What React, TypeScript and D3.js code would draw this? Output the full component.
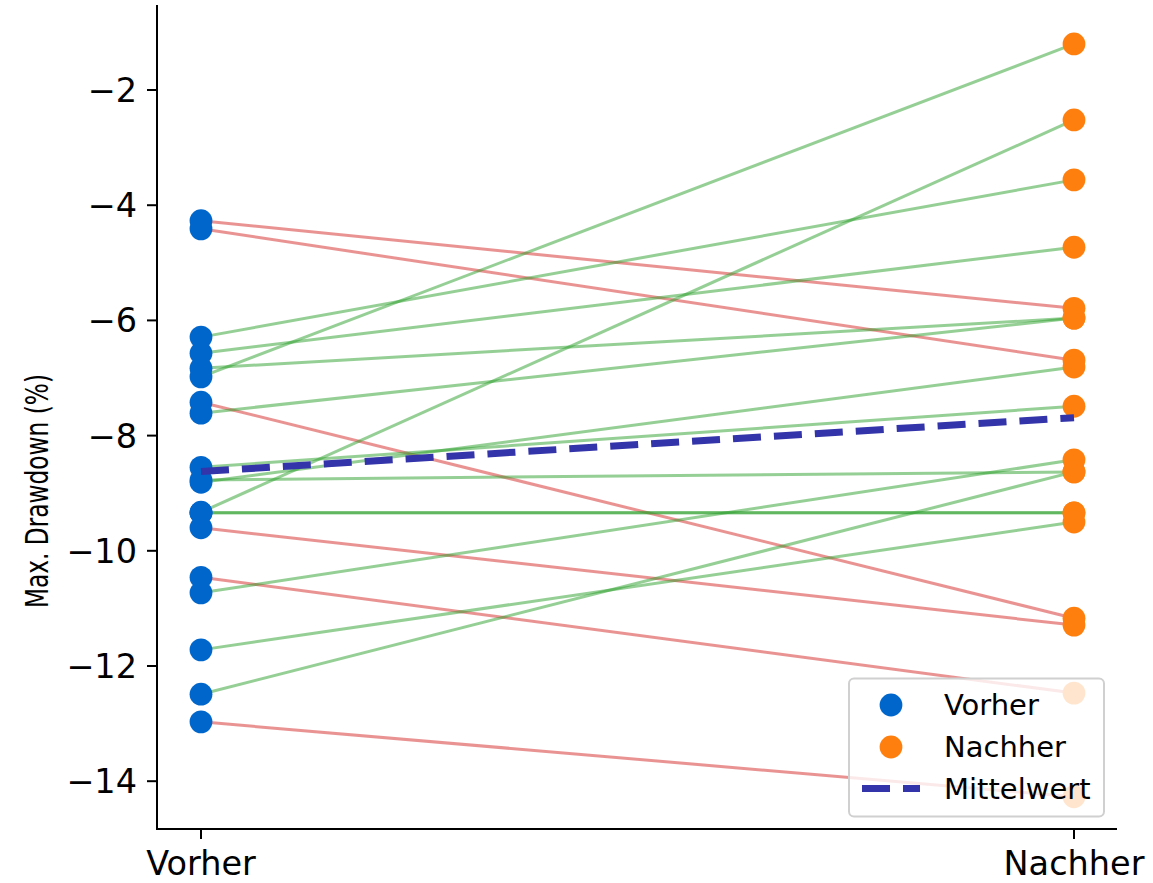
import React from "react";
import * as d3 from "d3";

const categories = ["Vorher", "Nachher"];
const beforeValues = [-4.27, -4.41, -6.29, -6.57, -6.83, -6.98, -7.42, -7.61, -8.55, -8.81, -8.77, -9.33, -9.34, -9.34, -9.60, -10.46, -10.73, -11.72, -12.49, -12.97];
const afterValues = [-5.79, -6.69, -3.56, -4.73, -5.96, -1.20, -11.17, -5.96, -7.49, -6.81, -8.63, -2.52, -9.34, -9.34, -11.29, -12.47, -8.42, -9.50, -8.63, -14.27];
const yTicks = [-14, -12, -10, -8, -6, -4, -2];
const yLabel = "Max. Drawdown (%)";
const legendLabels = ["Vorher", "Nachher", "Mittelwert"];

const W = 1153;
const H = 883;
const FONT = "DejaVu Sans, Liberation Sans, sans-serif";
const BLUE = "#0066cc";
const ORANGE = "#ff7f0e";
const GREEN = "#2ca02c";
const RED = "#d62728";
const MEAN = "#3333aa";

export default function App() {
  const x = d3.scalePoint<string>().domain(categories).range([201, 1074]);
  const y = d3.scaleLinear().domain([-14.83, -0.524]).range([829, 5]);
  const axL = 157, axR = 1117, axT = 5, axB = 829;
  const fmt = d3.format("d");
  const meanBefore = d3.mean(beforeValues) as number;
  const meanAfter = d3.mean(afterValues) as number;
  const x0 = x(categories[0]) as number;
  const x1 = x(categories[1]) as number;
  const line = d3.line<[number, number]>().x((d) => d[0]).y((d) => d[1]);

  return (
    <svg width={W} height={H} style={{ position: "absolute", left: 0, top: 0, background: "#fff" }} fontFamily={FONT}>
      <rect x={0} y={0} width={W} height={H} fill="#fff" />
      {/* connecting lines */}
      <g>
        {beforeValues.map((b, i) => {
          const a = afterValues[i];
          return (
            <path
              key={"l" + i}
              d={line([[x0, y(b)], [x1, y(a)]]) as string}
              stroke={a >= b ? GREEN : RED}
              strokeOpacity={0.5}
              strokeWidth={3}
              fill="none"
            />
          );
        })}
      </g>
      {/* points */}
      <g>
        {beforeValues.map((b, i) => (
          <circle key={"b" + i} cx={x0} cy={y(b)} r={11.4} fill={BLUE} />
        ))}
        {afterValues.map((a, i) => (
          <circle key={"a" + i} cx={x1} cy={y(a)} r={11.4} fill={ORANGE} />
        ))}
      </g>
      {/* mean line */}
      <path
        d={line([[x0, y(meanBefore)], [x1, y(meanAfter)]]) as string}
        stroke={MEAN}
        strokeWidth={7}
        strokeDasharray="28,13"
        fill="none"
      />
      {/* axes */}
      <line x1={axL} x2={axL} y1={axT} y2={axB + 1} stroke="#000" strokeWidth={2} />
      <line x1={axL - 1} x2={axR} y1={axB} y2={axB} stroke="#000" strokeWidth={2} />
      {yTicks.map((t) => (
        <g key={"yt" + t}>
          <line x1={axL - 10} x2={axL} y1={y(t)} y2={y(t)} stroke="#000" strokeWidth={2} />
          <text x={axL - 20} y={y(t)} dy="0.36em" textAnchor="end" fontSize={33.5} fill="#000">
            {fmt(t)}
          </text>
        </g>
      ))}
      {categories.map((c) => (
        <g key={"xt" + c}>
          <line x1={x(c)} x2={x(c)} y1={axB} y2={axB + 10} stroke="#000" strokeWidth={2} />
          <text x={x(c)} y={875} textAnchor="middle" fontSize={33.5} fill="#000">
            {c}
          </text>
        </g>
      ))}
      <text
        transform={`translate(48, ${491}) rotate(-90)`}
        textAnchor="middle"
        fontSize={32}
        textLength={234}
        lengthAdjust="spacingAndGlyphs"
        fill="#000"
      >
        {yLabel}
      </text>
      {/* legend */}
      <g>
        <rect x={849} y={678.5} width={255} height={138} rx={5} fill="#fff" fillOpacity={0.8} stroke="#d0d0d0" strokeWidth={2} />
        <circle cx={891} cy={705} r={11.4} fill={BLUE} />
        <circle cx={891} cy={747} r={11.4} fill={ORANGE} />
        <line x1={862} x2={920} y1={788.5} y2={788.5} stroke={MEAN} strokeWidth={7} strokeDasharray="28,13" />
        {legendLabels.map((l, i) => (
          <text key={"lg" + l} x={944} y={705 + i * 42} dy="0.36em" fontSize={29} fill="#000">
            {l}
          </text>
        ))}
      </g>
    </svg>
  );
}
